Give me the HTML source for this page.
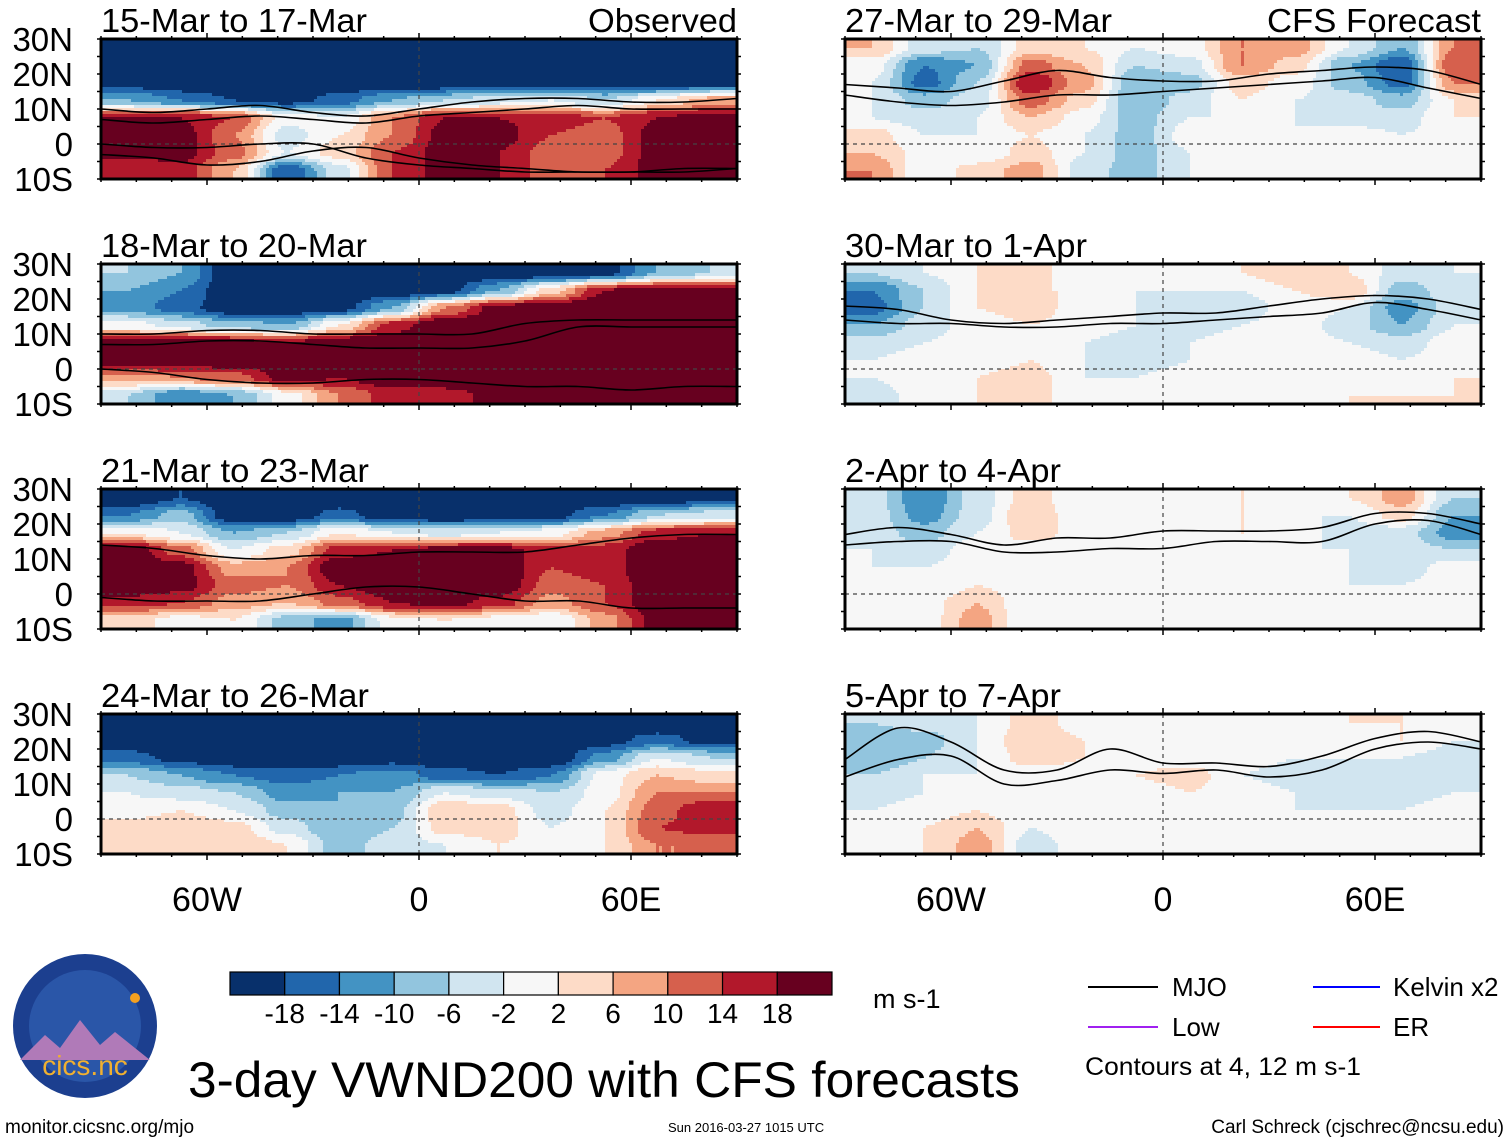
<!DOCTYPE html>
<html><head><meta charset="utf-8">
<style>
html,body{margin:0;padding:0;background:#fff;}
svg{display:block;font-family:"Liberation Sans",Arial,sans-serif;}
</style></head>
<body>
<svg id="chart" width="1510" height="1142" viewBox="0 0 1510 1142" style="position:absolute;left:0;top:0">
<g id="panels"></g>
<g id="legend-area"></g>
</svg>
<script>
// ---- data ----
const lonTicks = [-60, 0, 60];
const lonTickLabels = ["60W", "0", "60E"];
const latTicks = [30, 20, 10, 0, -10];
const latTickLabels = ["30N", "20N", "10N", "0", "10S"];
const rowLats = [27.5, 22.5, 17.5, 12.5, 7.5, 2.5, -2.5, -7.5];
const colLons = [-82.5, -67.5, -52.5, -37.5, -22.5, -7.5, 7.5, 22.5, 37.5, 52.5, 67.5, 82.5];
const lineLons = [-90, -75, -60, -45, -30, -15, 0, 15, 30, 45, 60, 75, 90];
const levelBounds = [-18, -14, -10, -6, -2, 2, 6, 10, 14, 18];
const levelLabels = ["-18", "-14", "-10", "-6", "-2", "2", "6", "10", "14", "18"];
const panelTitles = ["15-Mar to 17-Mar", "18-Mar to 20-Mar", "21-Mar to 23-Mar", "24-Mar to 26-Mar",
  "27-Mar to 29-Mar", "30-Mar to 1-Apr", "2-Apr to 4-Apr", "5-Apr to 7-Apr"];

const field1 = [
 [-20,-22,-22,-22,-22,-22,-22,-22,-22,-22,-22,-22],
 [-22,-22,-22,-22,-22,-22,-22,-22,-22,-22,-22,-22],
 [-20,-22,-22,-22,-22,-22,-22,-22,-22,-22,-22,-20],
 [-10,-14,-18,-20,-16,-10,-6,-4,-2,-6,2,8],
 [18,18,14,0,-2,10,18,18,16,14,18,20],
 [20,20,10,-4,2,10,20,20,14,12,20,22],
 [20,20,12,-2,4,14,20,18,12,12,20,22],
 [14,16,6,-18,-4,14,20,18,12,14,20,22]];
const field2 = [
 [-6,-10,-22,-22,-22,-22,-22,-22,-22,-20,-10,-6],
 [-10,-14,-22,-22,-22,-22,-20,-10,4,18,20,20],
 [-12,-16,-22,-22,-20,-10,10,20,22,22,22,22],
 [0,-4,-8,-10,2,16,22,22,22,22,22,22],
 [22,22,20,18,22,22,22,22,22,22,22,22],
 [22,22,22,20,22,22,22,22,22,22,22,22],
 [8,10,12,20,18,22,22,22,22,22,22,22],
 [-6,-14,-10,0,10,16,16,20,22,22,22,22]];
const field3 = [
 [-22,-18,-22,-22,-22,-22,-22,-22,-22,-22,-22,-20],
 [-14,-8,-22,-22,-16,-22,-22,-22,-20,-14,-6,-4],
 [2,-2,-10,-6,2,-2,-4,-2,0,8,16,18],
 [22,12,-2,4,16,18,20,20,16,16,22,22],
 [22,20,8,10,22,22,22,22,14,16,22,22],
 [22,20,12,10,18,22,22,22,12,14,22,22],
 [16,14,8,6,12,18,20,16,8,14,22,22],
 [4,0,2,-8,-12,0,2,0,-2,8,20,22]];
const field4 = [
 [-22,-22,-22,-22,-22,-22,-22,-22,-22,-22,-22,-22],
 [-22,-22,-22,-22,-22,-22,-22,-22,-22,-20,-16,-20],
 [-16,-20,-22,-22,-22,-20,-22,-22,-22,-12,-2,-6],
 [-6,-10,-14,-16,-14,-12,-16,-18,-14,0,6,4],
 [-2,-4,-6,-12,-10,-10,-2,-4,-6,0,10,10],
 [0,2,-2,-8,-10,-8,6,4,-4,2,12,18],
 [4,6,4,-4,-10,-6,4,4,-2,2,14,16],
 [2,4,6,2,-8,-4,-2,2,0,2,10,10]];
const field5 = [
 [6,-4,-6,4,2,-2,0,10,8,-2,-10,10],
 [0,-14,-10,12,6,-6,-4,10,4,-10,-18,14],
 [-2,-16,-6,18,8,-10,-8,4,0,-8,-16,10],
 [-2,-8,-4,12,4,-10,-4,2,-2,-4,-8,2],
 [-2,-4,-2,6,0,-8,-2,-2,-2,-4,-4,2],
 [4,-2,-2,2,-2,-8,0,2,-2,0,-2,0],
 [6,0,-2,4,-2,-8,-2,0,0,0,-2,0],
 [10,-2,4,8,-4,-8,-2,0,0,2,0,0]];
const field6 = [
 [-6,-2,2,4,-2,-2,0,2,6,2,-4,-2],
 [-14,-6,2,2,2,-2,-2,-2,2,6,-8,-4],
 [-16,-6,2,4,0,-2,-4,-4,0,-2,-12,-4],
 [-10,-4,0,2,0,-2,-4,-2,0,-4,-10,-2],
 [-4,-2,0,2,-2,-4,-2,0,0,-2,-4,0],
 [-2,0,0,2,-2,-4,-2,0,0,0,-2,0],
 [-2,0,2,4,-2,-2,0,0,0,0,-2,2],
 [-4,0,2,4,-2,-2,0,0,0,2,2,2]];
const field7 = [
 [-4,-14,-4,4,-2,0,0,2,0,2,8,-6],
 [-4,-12,-4,6,-2,-2,0,2,-2,-2,4,-10],
 [-4,-8,-2,4,0,0,2,2,0,-4,-4,-12],
 [-2,-4,0,0,0,0,0,0,-2,-2,-4,-6],
 [-2,-2,0,-2,0,2,-2,-2,-2,-2,-4,0],
 [-2,-2,2,0,0,2,-2,0,-2,-2,-2,0],
 [-2,0,6,-2,0,0,-2,0,0,-2,-2,0],
 [-2,0,8,-2,0,0,0,0,0,-2,0,0]];
const field8 = [
 [-6,-4,-2,4,0,-2,0,0,0,2,2,0],
 [-10,-8,-2,6,2,-2,0,0,-2,0,2,-2],
 [-10,-6,-2,4,2,0,0,0,-2,-2,-2,-4],
 [-6,-2,-2,0,0,2,4,-2,-4,-4,-6,-4],
 [-4,-2,0,0,0,0,2,0,-2,-4,-4,-2],
 [-2,0,2,-2,0,0,2,-2,-2,-2,-2,0],
 [-2,2,6,-2,0,0,0,0,-2,-2,-2,2],
 [0,2,8,-4,0,0,0,0,-2,-2,-2,0]];
const fields = [field1, field2, field3, field4, field5, field6, field7, field8];

const mjo1 = [[10,9,10,11,9,8,10,12,13,13,12,12,13],[7,6,7,8,7,6,8,9,10,11,10,10,10],[0,-1,-1,0,0,-4,-6,-7,-8,-8,-8,-7,-7],[-3,-4,-6,-5,-2,-1,-4,-6,-7,-8,-8,-8,-7]];
const mjo2 = [[10,10,11,11,10,10,10,10,13,14,14,14,14],[7,7,8,8,7,6,6,6,8,12,12,12,12],[0,-1,-3,-4,-4,-3,-3,-4,-5,-5,-6,-5,-5]];
const mjo3 = [[14,13,11,10,11,11,12,12,12,14,16,17,17],[-1,-2,-2,-2,0,2,2,0,-2,-2,-4,-4,-4]];
const mjo4 = [];
const mjo5 = [[17,16,15,18,21,19,18,18,20,21,22,21,17],[14,12,11,12,14,14,15,16,17,18,19,16,13]];
const mjo6 = [[18,17,14,13,14,15,16,16,18,20,21,20,17],[14,13,13,12,12,13,13,14,15,16,19,17,14]];
const mjo7 = [[17,19,17,14,16,16,18,18,18,19,23,23,20],[14,15,15,12,12,13,13,15,15,15,20,21,17]];
const mjo8 = [[17,26,22,14,14,20,16,16,15,18,23,25,22],[12,17,18,10,11,14,13,14,12,14,20,22,20]];
const mjoLines = [mjo1, mjo2, mjo3, mjo4, mjo5, mjo6, mjo7, mjo8];

// ---- style ----
const palette = ["#08306b","#2166ac","#4393c3","#92c5de","#d1e5f0","#f7f7f7","#fddbc7","#f4a582","#d6604d","#b2182b","#67001f"];
const NS = "http://www.w3.org/2000/svg";
const panelsG = document.getElementById("panels");
const PW = 636, PH = 140, STEP = 3;
const panelOrigins = [[101,39],[101,264],[101,489],[101,714],[845,39],[845,264],[845,489],[845,714]];
const titleWidths = [266, 266, 268, 268, 267, 242, 216, 216];

function mk(tag, attrs, parent){
  const e = document.createElementNS(NS, tag);
  for (const k in attrs) e.setAttribute(k, attrs[k]);
  if (parent) parent.appendChild(e);
  return e;
}
function colorFor(v){
  let i = 0;
  while (i < levelBounds.length && v >= levelBounds[i]) i++;
  return palette[i];
}
function sample(field, lon, lat){
  let fc = (lon - colLons[0]) / 15; fc = Math.max(0, Math.min(colLons.length - 1, fc));
  let fr = (rowLats[0] - lat) / 5; fr = Math.max(0, Math.min(rowLats.length - 1, fr));
  const c0 = Math.floor(fc), r0 = Math.floor(fr);
  const c1 = Math.min(c0 + 1, colLons.length - 1), r1 = Math.min(r0 + 1, rowLats.length - 1);
  const tc = fc - c0, tr = fr - r0;
  // smoothstep for softer blobs
  const sc = tc*tc*(3-2*tc), sr = tr*tr*(3-2*tr);
  const a = field[r0][c0]*(1-sc) + field[r0][c1]*sc;
  const b = field[r1][c0]*(1-sc) + field[r1][c1]*sc;
  return a*(1-sr) + b*sr;
}
function smoothPath(pts){
  let d = "M" + pts[0][0] + "," + pts[0][1];
  for (let i = 0; i < pts.length - 1; i++){
    const p0 = pts[Math.max(i-1,0)], p1 = pts[i], p2 = pts[i+1], p3 = pts[Math.min(i+2, pts.length-1)];
    const c1x = p1[0] + (p2[0]-p0[0])/6, c1y = p1[1] + (p2[1]-p0[1])/6;
    const c2x = p2[0] - (p3[0]-p1[0])/6, c2y = p2[1] - (p3[1]-p1[1])/6;
    d += " C" + c1x + "," + c1y + " " + c2x + "," + c2y + " " + p2[0] + "," + p2[1];
  }
  return d;
}

fields.forEach((field, p) => {
  const [ox, oy] = panelOrigins[p];
  const xs = lon => ox + (lon + 90) / 180 * PW;
  const ys = lat => oy + (30 - lat) / 40 * PH;
  const g = mk("g", {}, panelsG);
  
  
  const heat = mk("g", {"shape-rendering": "crispEdges"}, g);
  
  
  for (let py = 0; py < PH; py += STEP){
    const lat = 30 - (py + STEP/2) / PH * 40;
    let runStart = 0, runCol = null;
    for (let px = 0; px <= PW; px += STEP){
      let col = null;
      if (px < PW){
        const lon = -90 + (px + STEP/2) / PW * 180;
        col = colorFor(sample(field, lon, lat));
      }
      if (col !== runCol){
        if (runCol !== null){
          const cell = mk("rect", {x: ox + runStart, y: oy + py, width: Math.min(px, PW) - runStart, height: Math.min(STEP, PH - py), fill: runCol}, heat);
          
          
        }
        runStart = px; runCol = col;
      }
    }
  }
  const inner = mk("g", {}, g);
  mk("line", {x1: ox, x2: ox + PW, y1: ys(0), y2: ys(0), stroke: "#444", "stroke-width": 1.2, "stroke-dasharray": "4,4"}, inner);
  mk("line", {x1: xs(0), x2: xs(0), y1: oy, y2: oy + PH, stroke: "#444", "stroke-width": 1.2, "stroke-dasharray": "4,4"}, inner);
  mjoLines[p].forEach(line => {
    const pts = line.map((lat, i) => [xs(lineLons[i]), ys(lat)]);
    const path = mk("path", {d: smoothPath(pts), fill: "none", stroke: "#000", "stroke-width": 1.6}, inner);
    
    
  });
  const frame = mk("rect", {x: ox, y: oy, width: PW, height: PH, fill: "none", stroke: "#000", "stroke-width": 3}, g);
  
  
  for (let lon = -90; lon <= 90; lon += 10){
    const major = lonTicks.includes(lon);
    mk("line", {x1: xs(lon), x2: xs(lon), y1: oy, y2: oy - (major ? 6 : 3), stroke: "#000", "stroke-width": 1.5}, g);
    mk("line", {x1: xs(lon), x2: xs(lon), y1: oy + PH, y2: oy + PH + (major ? 6 : 3), stroke: "#000", "stroke-width": 1.5}, g);
  }
  for (let lat = -10; lat <= 30; lat += 5){
    mk("line", {x1: ox, x2: ox - 4, y1: ys(lat), y2: ys(lat), stroke: "#000", "stroke-width": 1.5}, g);
    mk("line", {x1: ox + PW, x2: ox + PW + 4, y1: ys(lat), y2: ys(lat), stroke: "#000", "stroke-width": 1.5}, g);
  }
  const t = mk("text", {x: ox, y: oy - 7, "font-size": 33, fill: "#000", textLength: titleWidths[p], lengthAdjust: "spacingAndGlyphs"}, g);
  t.textContent = panelTitles[p];
  
  
  if (p === 0 || p === 4){
    const t2 = mk("text", {x: ox + PW, y: oy - 7, "font-size": 33, "text-anchor": "end", fill: "#000", textLength: p === 0 ? 149 : 214, lengthAdjust: "spacingAndGlyphs"}, g);
    t2.textContent = p === 0 ? "Observed" : "CFS Forecast";
    
    
  }
  if (p < 4){
    latTicks.forEach((lat, i) => {
      const l = mk("text", {x: 73, y: ys(lat) + 12, "font-size": 33, "text-anchor": "end", fill: "#000"}, g);
      l.textContent = latTickLabels[i];
      
      
    });
  }
  if (p === 3 || p === 7){
    lonTicks.forEach((lon, i) => {
      const l = mk("text", {x: xs(lon), y: 911, "font-size": 34, "text-anchor": "middle", fill: "#000"}, g);
      l.textContent = lonTickLabels[i];
      
      
    });
  }
});

// ---- colorbar ----
const lg = document.getElementById("legend-area");
const cb = mk("g", {}, lg);


const cbX = 230, cbW = 602, cbY = 972, cbH = 23, bw = cbW / palette.length;
palette.forEach((col, i) => {
  const r = mk("rect", {x: cbX + i*bw, y: cbY, width: bw, height: cbH, fill: col, stroke: "#000", "stroke-width": 1.2}, cb);
  
  
});
levelLabels.forEach((lab, i) => {
  const t = mk("text", {x: cbX + (i+1)*bw, y: 1023, "font-size": 28, "text-anchor": "middle"}, cb);
  t.textContent = lab;
  
  
});
</script>
<svg width="1510" height="1142" style="position:absolute;left:0;top:0">
  <text x="873" y="1008" font-size="27" font-family="Liberation Sans, sans-serif">m s-1</text>
  <g font-family="Liberation Sans, sans-serif">
    <line x1="1088" x2="1158" y1="987" y2="987" stroke="#000" stroke-width="2"/>
    <text x="1172" y="996" font-size="26">MJO</text>
    <line x1="1088" x2="1158" y1="1027" y2="1027" stroke="#a020f0" stroke-width="2"/>
    <text x="1172" y="1036" font-size="26">Low</text>
    <line x1="1313" x2="1380" y1="987" y2="987" stroke="#0000ff" stroke-width="2"/>
    <text x="1393" y="996" font-size="26">Kelvin x2</text>
    <line x1="1313" x2="1380" y1="1027" y2="1027" stroke="#ff0000" stroke-width="2"/>
    <text x="1393" y="1036" font-size="26">ER</text>
    <text x="1085" y="1075" font-size="25" textLength="276" lengthAdjust="spacingAndGlyphs">Contours at 4, 12 m s-1</text>
  </g>
  <g font-family="Liberation Sans, sans-serif">
  <text x="188" y="1097" font-size="50" textLength="832" lengthAdjust="spacingAndGlyphs">3-day VWND200 with CFS forecasts</text>
  <text x="5" y="1133" font-size="19">monitor.cicsnc.org/mjo</text>
  <text x="668" y="1132" font-size="13">Sun 2016-03-27 1015 UTC</text>
  <text x="1504" y="1133" font-size="19" text-anchor="end">Carl Schreck (cjschrec@ncsu.edu)</text>
  </g>
  <g font-family="Liberation Sans, sans-serif">
    <circle cx="85" cy="1026" r="72" fill="#1c3f8f"/>
    <circle cx="85" cy="1026" r="56" fill="#2a56a8"/>
    <path d="M20,1060 L45,1035 L60,1048 L80,1020 L100,1045 L115,1032 L150,1060 Z" fill="#b07ab8"/>
    <circle cx="135" cy="998" r="5" fill="#f4a020"/>
    <text x="85" y="1075" font-size="28" fill="#f0b030" text-anchor="middle">cics.nc</text>
  </g>
</svg>
</body></html>
